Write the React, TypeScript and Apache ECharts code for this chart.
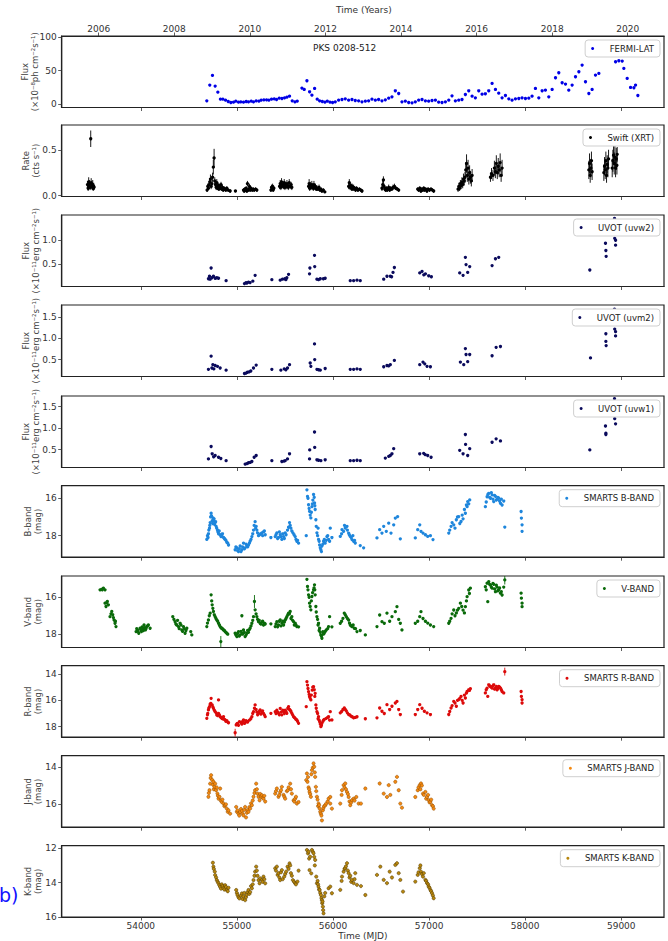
import React, { useEffect, useRef } from "react";
import * as echarts from "echarts";

// ---------- tick values ----------
const mjdTicks = [54000, 55000, 56000, 57000, 58000, 59000];
const yearTicks = [2006, 2008, 2010, 2012, 2014, 2016, 2018, 2020];

// ---------- data: [MJD, value] ----------
const fermiLat = [
  [54687, 5], [54718, 28.5], [54746, 43], [54774, 27], [54802, 18], [54829, 7.5], [54854, 7.5], [54882, 6], [54910, 4], [54937, 2.5],
  [54965, 3], [54989, 4.5], [55017, 3], [55041, 3.5], [55069, 3], [55097, 4], [55121, 3.5], [55149, 4.5], [55173, 3.5], [55201, 5],
  [55229, 4.5], [55253, 6], [55281, 6.5], [55309, 6.5], [55333, 6], [55361, 7.5], [55389, 8], [55413, 7], [55441, 9], [55469, 8.5],
  [55496, 9.5], [55521, 10.5], [55548, 12], [55576, 5], [55604, 3.5], [55628, 4.5], [55677, 24], [55701, 22], [55729, 35], [55757, 18.5],
  [55781, 13.5], [55809, 23.5], [55836, 7.5], [55861, 5], [55889, 4], [55916, 3], [55941, 4.5], [55969, 3], [55996, 2.5], [56024, 3.5],
  [56059, 6], [56094, 7], [56128, 8], [56163, 6], [56198, 7], [56232, 5.5], [56267, 5], [56302, 3.5], [56337, 4.5], [56371, 5],
  [56406, 7.5], [56441, 6], [56475, 7], [56510, 5], [56545, 6.5], [56580, 9], [56614, 11], [56649, 20], [56684, 16], [56718, 3.5],
  [56753, 4.5], [56788, 2.5], [56823, 2], [56857, 3.5], [56892, 6], [56927, 7], [56962, 5], [56996, 4.5], [57031, 5.5], [57066, 6],
  [57100, 3], [57135, 2.5], [57170, 3.5], [57205, 6], [57239, 12.5], [57274, 5], [57309, 6], [57343, 7], [57378, 14.5], [57413, 20],
  [57448, 12], [57482, 9.5], [57517, 20], [57552, 15], [57586, 15.5], [57621, 20], [57656, 31], [57691, 22], [57725, 16.5], [57760, 9.5],
  [57795, 13], [57830, 8], [57864, 6], [57899, 8], [57934, 8.5], [57968, 9.5], [58003, 8.5], [58038, 9], [58072, 12], [58107, 23.5],
  [58142, 9.5], [58177, 20], [58211, 21], [58246, 11], [58281, 22], [58316, 39.5], [58350, 47], [58385, 32], [58420, 30], [58454, 21],
  [58489, 28.5], [58524, 41], [58559, 48.5], [58593, 58.5], [58628, 33.5], [58663, 16], [58697, 22], [58732, 43.5], [58767, 46],
  [58941, 63.5], [58975, 65], [59010, 64.5], [59027, 53.5], [59062, 38.5], [59097, 25], [59132, 24.5], [59149, 28.5], [59173, 13],
];

// [MJD, rate, error]
const swiftXrt = [
  [53445, 0.12, 0.04], [53452, 0.08, 0.03], [53458, 0.15, 0.05], [53463, 0.1, 0.03], [53468, 0.13, 0.04], [53473, 0.09, 0.03],
  [53479, 0.62, 0.09], [53484, 0.14, 0.05], [53490, 0.11, 0.04], [53495, 0.1, 0.04], [53500, 0.12, 0.05], [53505, 0.08, 0.03],
  [53510, 0.1, 0.04], [53514, 0.09, 0.03],
  [54690, 0.06, 0.02], [54697, 0.1, 0.03], [54704, 0.08, 0.02], [54711, 0.12, 0.03], [54718, 0.15, 0.04], [54725, 0.18, 0.05],
  [54732, 0.1, 0.03], [54740, 0.13, 0.04], [54747, 0.2, 0.05], [54755, 0.31, 0.08], [54763, 0.41, 0.1], [54770, 0.16, 0.04],
  [54777, 0.12, 0.03], [54784, 0.09, 0.03], [54791, 0.14, 0.04], [54798, 0.08, 0.02], [54806, 0.11, 0.03], [54813, 0.07, 0.02],
  [54820, 0.1, 0.03], [54828, 0.08, 0.02], [54835, 0.12, 0.03], [54843, 0.07, 0.02], [54850, 0.09, 0.03], [54858, 0.06, 0.02],
  [54866, 0.08, 0.02], [54875, 0.07, 0.02], [54885, 0.06, 0.02], [54895, 0.08, 0.02], [54910, 0.06, 0.02], [54930, 0.05, 0.02],
  [54985, 0.05, 0.01],
  [55069, 0.06, 0.02], [55076, 0.05, 0.02], [55083, 0.07, 0.02], [55090, 0.06, 0.02], [55097, 0.08, 0.02], [55104, 0.05, 0.02],
  [55110, 0.13, 0.03], [55117, 0.06, 0.02], [55124, 0.07, 0.02], [55131, 0.1, 0.03], [55138, 0.06, 0.02], [55145, 0.08, 0.02],
  [55152, 0.07, 0.02], [55160, 0.06, 0.02], [55170, 0.07, 0.02], [55180, 0.06, 0.02], [55195, 0.07, 0.02], [55208, 0.06, 0.02],
  [55354, 0.06, 0.02], [55360, 0.09, 0.03], [55366, 0.07, 0.02], [55372, 0.1, 0.03], [55378, 0.06, 0.02], [55385, 0.08, 0.02],
  [55444, 0.1, 0.03], [55451, 0.13, 0.04], [55458, 0.09, 0.03], [55465, 0.15, 0.04], [55472, 0.11, 0.03], [55479, 0.12, 0.04],
  [55486, 0.1, 0.03], [55493, 0.14, 0.04], [55500, 0.09, 0.03], [55507, 0.12, 0.03], [55514, 0.1, 0.03], [55521, 0.13, 0.04],
  [55528, 0.11, 0.03], [55535, 0.09, 0.03], [55545, 0.14, 0.04], [55555, 0.1, 0.03], [55565, 0.12, 0.03], [55572, 0.09, 0.03],
  [55746, 0.1, 0.03], [55752, 0.13, 0.05], [55758, 0.08, 0.03], [55765, 0.11, 0.04], [55772, 0.09, 0.03], [55780, 0.12, 0.04],
  [55788, 0.1, 0.03], [55795, 0.08, 0.03], [55802, 0.12, 0.04], [55810, 0.09, 0.03], [55818, 0.1, 0.03], [55826, 0.07, 0.02],
  [55835, 0.08, 0.03], [55845, 0.07, 0.02], [55855, 0.09, 0.03], [55865, 0.06, 0.02], [55875, 0.07, 0.02], [55885, 0.05, 0.02],
  [55900, 0.06, 0.02], [55915, 0.04, 0.01],
  [56163, 0.1, 0.03], [56170, 0.14, 0.04], [56178, 0.09, 0.03], [56185, 0.11, 0.03], [56192, 0.08, 0.03], [56200, 0.1, 0.03],
  [56208, 0.07, 0.02], [56215, 0.09, 0.03], [56225, 0.08, 0.02], [56235, 0.06, 0.02], [56245, 0.08, 0.02], [56260, 0.06, 0.02],
  [56275, 0.07, 0.02], [56290, 0.06, 0.02], [56302, 0.05, 0.02],
  [56510, 0.08, 0.03], [56518, 0.12, 0.04], [56525, 0.17, 0.04], [56532, 0.1, 0.03], [56540, 0.07, 0.02], [56548, 0.06, 0.02],
  [56556, 0.08, 0.02], [56564, 0.06, 0.02], [56572, 0.07, 0.02], [56580, 0.09, 0.03], [56590, 0.06, 0.02], [56600, 0.08, 0.02],
  [56612, 0.07, 0.02], [56625, 0.09, 0.03], [56640, 0.1, 0.03], [56655, 0.08, 0.02], [56670, 0.07, 0.02], [56684, 0.06, 0.02],
  [56882, 0.07, 0.02], [56892, 0.06, 0.02], [56903, 0.08, 0.02], [56915, 0.05, 0.02], [56925, 0.07, 0.02], [56935, 0.06, 0.02],
  [56945, 0.08, 0.02], [56955, 0.06, 0.02], [56965, 0.07, 0.02], [56978, 0.05, 0.02], [56990, 0.07, 0.02], [57005, 0.06, 0.02],
  [57020, 0.07, 0.02], [57035, 0.06, 0.02], [57048, 0.05, 0.02],
  [57302, 0.07, 0.03], [57310, 0.1, 0.04], [57318, 0.08, 0.03], [57326, 0.13, 0.04], [57334, 0.11, 0.04], [57342, 0.15, 0.05],
  [57350, 0.12, 0.04], [57358, 0.18, 0.06], [57366, 0.16, 0.05], [57374, 0.2, 0.06], [57382, 0.28, 0.08], [57390, 0.35, 0.1],
  [57398, 0.22, 0.07], [57406, 0.3, 0.09], [57414, 0.18, 0.06], [57422, 0.25, 0.08], [57430, 0.2, 0.07], [57440, 0.16, 0.06],
  [57448, 0.22, 0.07],
  [57639, 0.2, 0.05], [57650, 0.24, 0.06], [57665, 0.22, 0.06], [57680, 0.3, 0.08], [57690, 0.26, 0.07], [57700, 0.35, 0.09],
  [57710, 0.25, 0.07], [57720, 0.32, 0.09], [57730, 0.28, 0.08], [57740, 0.36, 0.1], [57750, 0.22, 0.07], [57760, 0.3, 0.09],
  [58663, 0.28, 0.1], [58670, 0.35, 0.11], [58677, 0.22, 0.08], [58684, 0.3, 0.1], [58690, 0.38, 0.1], [58697, 0.26, 0.09],
  [58819, 0.25, 0.09], [58826, 0.32, 0.1], [58833, 0.28, 0.1], [58840, 0.38, 0.1], [58847, 0.22, 0.08], [58854, 0.34, 0.1],
  [58861, 0.3, 0.1], [58868, 0.4, 0.1],
  [58906, 0.3, 0.1], [58913, 0.38, 0.12], [58920, 0.44, 0.1], [58927, 0.35, 0.12], [58934, 0.42, 0.12], [58941, 0.3, 0.1],
  [58948, 0.4, 0.12], [58955, 0.33, 0.1], [58958, 0.45, 0.08],
];

const uvotW2 = [
  [54704, 0.2], [54715, 0.25], [54732, 0.42], [54740, 0.22], [54756, 0.25], [54774, 0.21], [54791, 0.22], [54809, 0.21], [54722, 0.19],
  [54888, 0.16],
  [55079, 0.1], [55104, 0.11], [55138, 0.12], [55166, 0.15], [55190, 0.27], [55095, 0.12], [55121, 0.13],
  [55364, 0.18],
  [55451, 0.17], [55475, 0.19], [55500, 0.2], [55520, 0.22], [55538, 0.29], [55510, 0.18],
  [55756, 0.3], [55760, 0.42], [55808, 0.68], [55810, 0.45], [55833, 0.19], [55868, 0.2], [55900, 0.2], [55919, 0.21], [55850, 0.18],
  [56180, 0.16], [56215, 0.16], [56250, 0.17], [56284, 0.16],
  [56528, 0.19], [56562, 0.25], [56597, 0.25], [56625, 0.33], [56639, 0.43], [56610, 0.24],
  [56903, 0.32], [56927, 0.35], [56962, 0.3], [56996, 0.26], [57024, 0.24], [56945, 0.28],
  [57319, 0.32], [57354, 0.27], [57378, 0.64], [57385, 0.49], [57402, 0.33], [57423, 0.45],
  [57656, 0.47], [57691, 0.61], [57725, 0.64],
  [58673, 0.38],
  [58836, 0.93], [58840, 0.78], [58843, 0.66],
  [58930, 1.44], [58932, 1.03], [58941, 0.99], [58941, 0.89],
];

const uvotM2 = [
  [54704, 0.27], [54732, 0.58], [54750, 0.38], [54774, 0.36], [54798, 0.34], [54826, 0.3], [54888, 0.25], [54740, 0.3], [54760, 0.28],
  [55079, 0.17], [55110, 0.2], [55145, 0.23], [55173, 0.3], [55201, 0.37], [55095, 0.18], [55128, 0.21],
  [55364, 0.27],
  [55458, 0.25], [55493, 0.28], [55527, 0.3], [55548, 0.38], [55510, 0.26],
  [55763, 0.42], [55770, 0.34], [55808, 0.87], [55810, 0.5], [55833, 0.27], [55868, 0.25], [55919, 0.29], [55850, 0.26],
  [56180, 0.27], [56215, 0.27], [56250, 0.28], [56284, 0.27],
  [56528, 0.33], [56562, 0.36], [56597, 0.38], [56639, 0.48], [56580, 0.35],
  [56903, 0.38], [56937, 0.44], [56979, 0.34], [57014, 0.33], [56955, 0.4],
  [57326, 0.44], [57361, 0.38], [57378, 0.76], [57385, 0.62], [57402, 0.45], [57423, 0.62],
  [57656, 0.59], [57698, 0.79], [57743, 0.81],
  [58680, 0.54],
  [58840, 1.11], [58840, 0.93], [58843, 0.83],
  [58930, 1.69], [58932, 1.22], [58941, 1.16], [58941, 1.06],
];

const uvotW1 = [
  [54704, 0.28], [54732, 0.57], [54743, 0.4], [54774, 0.36], [54809, 0.32], [54833, 0.29], [54888, 0.24], [54758, 0.33],
  [55086, 0.16], [55121, 0.19], [55156, 0.22], [55180, 0.32], [55201, 0.36], [55104, 0.17], [55140, 0.2],
  [55364, 0.24],
  [55468, 0.22], [55503, 0.24], [55527, 0.28], [55548, 0.4], [55490, 0.23],
  [55756, 0.28], [55758, 0.49], [55808, 0.91], [55810, 0.55], [55833, 0.26], [55874, 0.24], [55919, 0.26], [55850, 0.25],
  [56180, 0.24], [56215, 0.24], [56250, 0.25], [56284, 0.24],
  [56545, 0.3], [56580, 0.34], [56614, 0.4], [56632, 0.52], [56597, 0.36],
  [56903, 0.4], [56944, 0.41], [56986, 0.36], [57021, 0.32], [56960, 0.38],
  [57319, 0.48], [57354, 0.4], [57378, 0.85], [57380, 0.62], [57402, 0.36], [57423, 0.52],
  [57656, 0.67], [57698, 0.75], [57743, 0.7],
  [58673, 0.49],
  [58836, 1.05], [58840, 0.88], [58840, 0.85],
  [58930, 1.69], [58932, 1.22], [58941, 1.1],
];

const bBand = [
  [54687, 18.2], [54694, 18.0], [54700, 18.1], [54704, 17.9], [54708, 17.7], [54715, 17.6], [54718, 17.45], [54722, 17.3], [54727, 17.0],
  [54732, 16.8], [54736, 16.95], [54743, 17.2], [54748, 17.35], [54752, 17.05], [54756, 17.2], [54763, 17.1], [54768, 17.4], [54774, 17.3],
  [54779, 17.25], [54784, 17.5], [54790, 17.6], [54798, 17.7], [54803, 17.8], [54809, 17.9], [54816, 17.75], [54826, 17.95], [54835, 18.05],
  [54843, 18.0], [54850, 17.9], [54861, 18.1], [54870, 18.15], [54878, 18.2], [54886, 18.25], [54895, 18.35], [54905, 18.4], [54913, 18.5],
  [54982, 18.75], [54990, 18.6], [55000, 18.65], [55008, 18.8], [55017, 18.85], [55025, 18.7], [55034, 18.55], [55043, 18.85], [55052, 18.75],
  [55060, 18.6], [55069, 18.4], [55078, 18.7], [55086, 18.65], [55095, 18.45], [55104, 18.55], [55112, 18.6], [55121, 18.5], [55130, 18.4],
  [55138, 18.3], [55147, 18.2], [55156, 18.05], [55165, 17.9], [55173, 17.7], [55180, 17.45], [55190, 17.25], [55195, 17.6], [55201, 17.5],
  [55208, 17.7], [55215, 17.85], [55225, 18.0], [55236, 17.95], [55248, 17.9], [55260, 17.85], [55268, 18.0], [55277, 17.8], [55286, 17.75],
  [55295, 17.95],
  [55354, 18.1],
  [55399, 18.05], [55407, 17.95], [55416, 17.85], [55424, 18.15], [55433, 18.1], [55442, 17.8], [55451, 17.95], [55459, 18.05], [55468, 18.2],
  [55477, 17.9], [55486, 18.05], [55494, 18.15], [55503, 17.85], [55512, 17.95], [55527, 17.7], [55538, 17.55], [55548, 17.3], [55555, 17.45],
  [55562, 17.6], [55572, 17.75], [55583, 17.85], [55595, 17.95], [55607, 18.05], [55615, 18.2], [55624, 18.3], [55632, 18.25], [55642, 18.4],
  [55722, 18.0], [55729, 15.55], [55735, 15.9], [55740, 16.0], [55746, 16.35], [55752, 16.55], [55756, 16.7], [55763, 16.9], [55770, 17.05],
  [55775, 16.75], [55781, 16.45], [55786, 16.3], [55791, 16.1], [55798, 15.8], [55805, 15.95], [55808, 16.25], [55811, 16.4], [55815, 16.6],
  [55822, 17.15], [55826, 17.5], [55833, 17.85], [55840, 18.0], [55845, 17.6], [55850, 18.2], [55856, 18.3], [55861, 18.5], [55868, 18.65],
  [55874, 18.75], [55880, 18.85], [55885, 18.55], [55895, 18.45], [55902, 18.3], [55910, 18.2], [55919, 18.4], [55930, 18.25], [55937, 18.05],
  [55945, 18.0], [55954, 18.2], [55965, 18.3], [55972, 17.6], [55989, 18.1],
  [56076, 18.04], [56090, 17.9], [56094, 17.68], [56111, 17.77], [56120, 17.45], [56128, 17.59], [56146, 17.5], [56150, 17.7], [56163, 17.86],
  [56170, 17.95], [56180, 18.04], [56190, 18.1], [56198, 18.21], [56207, 18.0], [56215, 18.3], [56225, 18.25], [56232, 18.39], [56284, 18.53],
  [56319, 18.65],
  [56458, 18.12], [56486, 17.68], [56510, 17.86], [56528, 17.5], [56555, 17.77], [56580, 17.33], [56604, 17.86], [56632, 17.42], [56649, 17.06],
  [56673, 16.98], [56701, 18.17],
  [56857, 18.12], [56882, 17.68], [56903, 17.42], [56916, 17.77], [56937, 17.86], [56962, 17.95], [56986, 18.04], [57014, 18.0], [57041, 18.21],
  [57205, 17.86], [57215, 17.7], [57229, 17.5], [57240, 17.3], [57257, 17.42], [57270, 17.6], [57284, 17.15], [57296, 17.0], [57309, 16.98],
  [57320, 17.35], [57333, 17.24], [57345, 16.9], [57354, 17.1], [57368, 16.6], [57378, 16.8], [57389, 16.36], [57396, 16.45], [57402, 16.18],
  [57413, 16.3], [57423, 16.09],
  [57586, 16.45], [57595, 16.2], [57604, 15.92], [57612, 15.8], [57621, 15.74], [57630, 15.95], [57639, 16.0], [57648, 15.7], [57656, 15.82],
  [57665, 16.05], [57673, 16.18], [57682, 15.85], [57691, 15.9], [57700, 16.1], [57708, 16.05], [57716, 15.95], [57725, 16.0], [57734, 16.15],
  [57743, 16.27], [57752, 16.05], [57760, 16.36], [57777, 16.15], [57788, 17.54],
  [57958, 16.71], [57961, 17.06], [57968, 17.42], [57968, 17.77],
];

const vBand = [
  [53576, 15.6], [53594, 15.57], [53600, 15.6], [53611, 15.51], [53628, 15.6],
  [53628, 16.32], [53638, 16.5], [53645, 16.3], [53652, 16.23], [53663, 16.41],
  [53680, 17.05], [53690, 16.9], [53698, 16.77], [53708, 16.95], [53715, 17.1], [53722, 17.23], [53732, 17.41], [53736, 17.3], [53742, 17.59],
  [53951, 17.86], [53958, 17.7], [53965, 17.77], [53972, 17.85], [53979, 17.95], [53993, 17.68], [54000, 17.75], [54007, 17.86], [54014, 17.6],
  [54020, 17.68], [54027, 17.8], [54034, 17.5], [54041, 17.65], [54048, 17.77], [54055, 17.7], [54062, 17.59], [54070, 17.55], [54079, 17.5],
  [54097, 17.68],
  [54333, 17.05], [54345, 17.2], [54357, 17.32], [54365, 17.45], [54374, 17.5], [54383, 17.25], [54392, 17.59], [54400, 17.7], [54409, 17.41],
  [54418, 17.5], [54427, 17.77], [54435, 17.85], [54444, 17.59], [54452, 17.7], [54461, 17.95], [54470, 17.8], [54479, 17.68], [54520, 17.86],
  [54531, 18.04],
  [54687, 17.59], [54694, 17.4], [54704, 17.23], [54713, 17.0], [54722, 16.86], [54732, 15.87], [54738, 16.2], [54743, 16.41], [54750, 16.6],
  [54756, 16.77], [54765, 16.95], [54774, 17.05], [54782, 17.15], [54791, 17.23], [54800, 17.3], [54809, 17.41], [54818, 17.5], [54826, 17.59],
  [54833, 18.4], [54835, 17.65], [54843, 17.68], [54852, 17.72], [54861, 17.77], [54870, 17.8], [54878, 17.86], [54886, 17.9], [54895, 17.95],
  [54905, 18.0],
  [54982, 17.95], [54990, 18.05], [55000, 18.13], [55008, 17.95], [55017, 17.86], [55025, 18.1], [55034, 18.04], [55043, 17.85], [55052, 17.95],
  [55052, 17.0], [55060, 18.0], [55069, 17.77], [55078, 17.9], [55086, 18.13], [55095, 18.05], [55104, 17.95], [55112, 17.8], [55121, 17.9],
  [55130, 17.75], [55138, 17.68], [55147, 17.55], [55156, 17.41], [55165, 17.25], [55173, 17.05], [55183, 16.23], [55190, 16.68], [55200, 16.9],
  [55208, 17.05], [55216, 17.2], [55225, 17.32], [55233, 17.25], [55242, 17.41], [55250, 17.45], [55260, 17.35], [55268, 17.3], [55277, 17.5],
  [55286, 17.4], [55295, 17.45],
  [55354, 17.44],
  [55399, 17.59], [55407, 17.45], [55416, 17.32], [55424, 17.6], [55433, 17.5], [55442, 17.3], [55451, 17.23], [55459, 17.55], [55468, 17.4],
  [55477, 17.3], [55486, 17.5], [55494, 17.35], [55503, 17.23], [55512, 17.15], [55520, 17.05], [55530, 16.95], [55538, 16.86], [55547, 16.9],
  [55555, 16.77], [55563, 17.15], [55572, 17.05], [55580, 17.25], [55590, 17.32], [55598, 17.5], [55607, 17.41], [55615, 17.5], [55624, 17.59],
  [55642, 17.6],
  [55729, 15.03], [55735, 15.42], [55740, 15.6], [55746, 15.87], [55752, 16.0], [55756, 16.32], [55763, 16.5], [55770, 16.68], [55775, 16.2],
  [55781, 15.96], [55788, 15.75], [55798, 15.6], [55803, 15.5], [55808, 15.33], [55811, 15.6], [55815, 15.87], [55822, 16.5], [55826, 16.8],
  [55833, 17.05], [55840, 17.2], [55845, 17.5], [55850, 17.41], [55856, 17.8], [55861, 17.68], [55868, 17.9], [55874, 18.04], [55880, 18.1],
  [55885, 18.22], [55895, 17.86], [55900, 18.0], [55909, 17.95], [55920, 17.85], [55930, 17.77], [55945, 17.7], [55954, 17.59], [55965, 17.05],
  [55989, 17.6],
  [56076, 17.41], [56090, 17.3], [56104, 17.14], [56118, 16.86], [56128, 16.95], [56139, 17.05], [56150, 17.15], [56163, 17.23], [56172, 17.4],
  [56180, 17.5], [56190, 17.55], [56198, 17.59], [56210, 17.5], [56222, 17.68], [56235, 17.7], [56250, 17.86], [56284, 17.8], [56337, 18.04],
  [56458, 17.59], [56486, 16.96], [56510, 17.32], [56534, 17.41], [56562, 16.86], [56590, 17.3], [56614, 17.05], [56649, 16.78], [56666, 16.51],
  [56684, 17.2], [56701, 17.41], [56718, 17.77],
  [56857, 17.41], [56882, 17.3], [56903, 17.05], [56916, 16.78], [56937, 17.15], [56962, 17.3], [56986, 17.4], [57014, 17.5], [57048, 17.59],
  [57205, 17.41], [57215, 17.3], [57229, 17.14], [57240, 16.9], [57257, 16.69], [57270, 17.0], [57284, 16.85], [57296, 16.7], [57309, 16.6],
  [57326, 16.32], [57340, 16.5], [57354, 16.7], [57368, 16.85], [57378, 16.51], [57389, 16.2], [57396, 15.97], [57413, 15.61], [57420, 15.8],
  [57430, 15.51],
  [57586, 15.43], [57595, 15.6], [57604, 15.24], [57611, 16.24], [57621, 15.16], [57630, 15.3], [57639, 15.34], [57648, 15.45], [57656, 15.51],
  [57665, 15.25], [57673, 15.3], [57682, 15.55], [57691, 15.7], [57700, 15.35], [57708, 15.45], [57716, 15.65], [57725, 15.6], [57734, 15.5],
  [57743, 15.78], [57752, 15.7], [57760, 15.88], [57777, 15.45], [57788, 15.06],
  [57958, 15.78], [57961, 16.05], [57968, 16.32], [57968, 16.51],
];
const vBandErr = [[54833, 18.4, 0.3], [55183, 16.23, 0.35], [57788, 15.06, 0.25]];

const rBand = [
  [54687, 17.37], [54694, 17.1], [54697, 16.99], [54704, 16.73], [54708, 16.6], [54715, 16.48], [54722, 16.3], [54729, 16.23], [54732, 15.85],
  [54743, 16.35], [54750, 16.5], [54756, 16.61], [54765, 16.75], [54774, 16.86], [54784, 16.95], [54791, 17.11], [54800, 17.15], [54809, 17.0],
  [54809, 15.97], [54818, 17.1], [54826, 17.24], [54835, 17.3], [54843, 17.37], [54852, 17.4], [54861, 17.25], [54870, 17.45], [54878, 17.49],
  [54886, 17.6], [54895, 17.54], [54905, 17.65], [54913, 17.7],
  [54982, 18.46], [54993, 17.87], [55000, 17.8], [55006, 17.75], [55017, 17.9], [55027, 17.62], [55043, 17.7], [55052, 17.8], [55060, 17.6],
  [55069, 17.49], [55078, 17.75], [55086, 17.7], [55095, 17.55], [55104, 17.6], [55112, 17.65], [55131, 17.5], [55145, 17.4], [55156, 17.24],
  [55165, 17.0], [55173, 16.86], [55183, 16.6], [55190, 16.35], [55200, 16.7], [55208, 16.9], [55216, 17.1], [55225, 16.99], [55233, 16.85],
  [55242, 16.73], [55250, 17.05], [55260, 16.9], [55268, 16.8], [55277, 16.99], [55286, 17.1], [55295, 17.24],
  [55354, 16.99],
  [55399, 16.86], [55407, 17.0], [55416, 16.75], [55424, 16.9], [55433, 16.99], [55442, 17.1], [55451, 16.61], [55459, 16.9], [55468, 17.1],
  [55477, 16.75], [55486, 16.86], [55494, 17.0], [55503, 16.75], [55512, 16.85], [55520, 16.99], [55530, 16.6], [55538, 16.48], [55547, 16.7],
  [55555, 16.75], [55563, 16.85], [55572, 16.99], [55580, 17.1], [55590, 17.24], [55598, 17.3], [55607, 17.37], [55615, 17.45], [55624, 17.49],
  [55632, 17.6], [55642, 17.75],
  [55722, 16.48], [55729, 14.58], [55735, 14.84], [55740, 15.1], [55746, 15.34], [55752, 15.55], [55756, 15.72], [55763, 15.85], [55770, 15.97],
  [55775, 15.6], [55784, 15.22], [55790, 15.0], [55798, 14.96], [55805, 15.2], [55811, 15.7], [55815, 15.47], [55822, 16.35], [55826, 16.6],
  [55833, 16.86], [55840, 17.0], [55845, 17.4], [55850, 17.24], [55856, 17.5], [55861, 17.62], [55868, 17.8], [55874, 18.0], [55880, 17.9],
  [55885, 17.75], [55895, 17.6], [55902, 17.5], [55910, 17.45], [55930, 17.37], [55945, 17.3], [55954, 17.24], [55965, 17.5], [55972, 16.86],
  [55989, 17.49],
  [56076, 16.95], [56090, 16.85], [56104, 16.7], [56118, 16.58], [56128, 16.7], [56139, 16.8], [56150, 16.95], [56163, 17.08], [56175, 17.1],
  [56187, 17.2], [56200, 17.25], [56215, 17.33], [56232, 17.3], [56250, 17.25], [56337, 17.4],
  [56458, 17.33], [56486, 16.58], [56510, 16.83], [56534, 17.0], [56562, 16.33], [56590, 16.7], [56614, 16.45], [56649, 16.2], [56666, 16.08],
  [56684, 16.7], [56701, 17.08],
  [56857, 17.08], [56882, 16.7], [56903, 16.33], [56927, 16.6], [56951, 16.83], [56979, 16.95], [57014, 17.08],
  [57205, 17.08], [57215, 16.85], [57229, 16.58], [57240, 16.4], [57257, 16.08], [57270, 16.2], [57284, 16.45], [57296, 16.0], [57309, 15.95],
  [57320, 15.85], [57333, 15.7], [57345, 16.0], [57354, 16.2], [57368, 15.6], [57378, 15.82], [57389, 15.45], [57396, 15.33], [57413, 15.2],
  [57420, 15.25], [57430, 15.12],
  [57586, 15.44], [57595, 15.2], [57604, 15.07], [57611, 15.7], [57621, 14.82], [57630, 14.9], [57639, 14.95], [57648, 15.0], [57656, 15.07],
  [57665, 14.9], [57673, 14.82], [57682, 15.15], [57691, 15.07], [57700, 14.95], [57708, 15.2], [57716, 15.1], [57725, 14.95], [57734, 15.0],
  [57743, 15.07], [57752, 15.2], [57760, 15.33], [57777, 15.44], [57788, 13.82],
  [57958, 15.33], [57961, 15.7], [57968, 15.95], [57968, 16.2],
];
const rBandErr = [[54982, 18.46, 0.3], [57788, 13.82, 0.3]];

const jBand = [
  [54704, 15.6], [54708, 15.4], [54715, 15.25], [54722, 14.9], [54727, 14.6], [54732, 14.45], [54743, 14.7], [54750, 14.95], [54756, 14.8],
  [54760, 15.2], [54767, 15.07], [54774, 14.9], [54784, 15.25], [54790, 15.1], [54798, 15.43], [54803, 15.55], [54809, 15.7], [54819, 15.6],
  [54826, 15.16], [54833, 15.8], [54843, 15.88], [54850, 15.75], [54861, 15.96], [54870, 16.1], [54878, 16.05], [54886, 16.0], [54895, 16.23],
  [54905, 16.4], [54913, 16.32], [54930, 16.5],
  [54993, 16.14], [55000, 16.4], [55006, 16.32], [55017, 16.5], [55025, 16.6], [55034, 16.41], [55043, 16.25], [55052, 16.35], [55060, 16.5],
  [55069, 16.59], [55078, 16.3], [55086, 16.14], [55095, 16.7], [55104, 16.45], [55112, 16.3], [55121, 16.4], [55130, 16.15], [55138, 16.23],
  [55147, 15.95], [55156, 16.05], [55165, 15.8], [55173, 15.6], [55183, 15.4], [55190, 15.25], [55201, 14.9], [55208, 15.2], [55215, 15.43],
  [55225, 15.6], [55236, 15.79], [55243, 15.45], [55250, 15.6], [55260, 15.52], [55268, 15.65], [55277, 15.7], [55286, 15.55], [55295, 15.85],
  [55399, 15.43], [55407, 15.3], [55416, 15.16], [55433, 15.6], [55442, 15.5], [55451, 15.35], [55459, 15.25], [55468, 15.07], [55486, 15.5],
  [55494, 15.6], [55503, 15.7], [55520, 15.3], [55530, 15.25], [55538, 15.1], [55555, 14.9], [55563, 15.2], [55572, 15.43], [55590, 15.79],
  [55598, 15.85], [55607, 15.7], [55615, 15.6], [55624, 15.96], [55642, 15.88],
  [55722, 14.71], [55729, 14.36], [55735, 14.8], [55740, 14.55], [55746, 15.1], [55752, 15.2], [55756, 15.34], [55763, 15.45], [55770, 15.6],
  [55775, 14.4], [55781, 14.18], [55790, 14.05], [55798, 13.82], [55805, 14.0], [55811, 14.3], [55815, 14.54], [55822, 15.07], [55826, 15.3],
  [55833, 15.6], [55840, 15.75], [55845, 16.1], [55850, 15.96], [55856, 16.05], [55861, 16.23], [55868, 16.4], [55874, 16.5], [55880, 16.6],
  [55885, 16.86], [55895, 16.32], [55900, 16.2], [55909, 16.1], [55920, 16.05], [55930, 15.96], [55945, 15.85], [55954, 15.7], [55972, 15.96],
  [55989, 16.23],
  [55972, 15.61], [56076, 15.96], [56090, 15.5], [56094, 15.25], [56111, 14.98], [56120, 15.1], [56128, 14.89], [56135, 15.2], [56146, 15.34],
  [56155, 15.45], [56163, 15.61], [56172, 15.85], [56180, 16.05], [56190, 15.9], [56198, 15.78], [56215, 15.7], [56225, 15.8], [56243, 15.61],
  [56267, 15.96], [56291, 15.96],
  [56337, 15.16],
  [56486, 14.89], [56528, 15.43], [56562, 15.61], [56580, 14.98], [56597, 15.5], [56649, 14.8], [56666, 14.54], [56684, 15.25], [56701, 15.96],
  [56718, 16.18],
  [56857, 15.61], [56882, 15.25], [56890, 15.1], [56903, 14.98], [56910, 15.2], [56916, 14.89], [56925, 15.0], [56937, 15.43], [56945, 15.5],
  [56962, 15.34], [56970, 15.7], [56979, 15.61], [56990, 15.5], [56996, 15.78], [57005, 15.9], [57014, 15.87], [57022, 15.75], [57031, 16.05],
  [57040, 16.1], [57048, 16.23],
];

const kBand = [
  [54750, 12.84], [54756, 13.07], [54760, 13.2], [54770, 13.36], [54774, 13.56], [54784, 13.7], [54791, 13.85], [54800, 13.95], [54809, 14.04],
  [54818, 14.15], [54826, 14.24], [54835, 14.35], [54843, 14.1], [54852, 14.2], [54861, 14.33], [54870, 14.4], [54878, 14.15], [54886, 14.25],
  [54895, 14.43], [54905, 14.5], [54913, 14.3],
  [54993, 14.43], [55000, 14.6], [55006, 14.72], [55017, 14.85], [55027, 14.92], [55043, 14.75], [55052, 14.63], [55060, 14.95], [55069, 14.8],
  [55078, 14.6], [55086, 15.02], [55095, 14.85], [55104, 14.7], [55112, 14.55], [55121, 14.43], [55130, 14.65], [55138, 14.55], [55147, 14.2],
  [55156, 14.33], [55165, 14.1], [55173, 13.85], [55183, 13.6], [55190, 13.36], [55201, 13.07], [55208, 13.3], [55215, 13.6], [55225, 13.85],
  [55236, 14.04], [55243, 13.75], [55260, 13.85], [55268, 13.95], [55277, 13.65], [55286, 13.8], [55295, 14.04],
  [55399, 13.17], [55407, 13.3], [55416, 13.07], [55424, 13.55], [55433, 13.45], [55442, 13.7], [55451, 13.85], [55459, 13.4], [55468, 13.27],
  [55477, 13.8], [55493, 13.65], [55503, 13.5], [55513, 13.36], [55527, 13.07], [55538, 13.2], [55548, 12.88], [55555, 13.0], [55562, 13.45],
  [55572, 13.6], [55583, 13.85], [55595, 13.95], [55607, 14.04], [55615, 14.1], [55631, 13.94], [55642, 13.3],
  [55729, 12.1], [55740, 12.3], [55746, 12.2], [55752, 12.6], [55756, 13.27], [55763, 12.49], [55774, 13.46], [55781, 12.1], [55790, 12.2],
  [55798, 12.29], [55805, 12.5], [55811, 13.0], [55815, 12.68], [55826, 13.65], [55833, 14.04], [55840, 13.9], [55845, 14.1], [55850, 14.24],
  [55856, 14.4], [55861, 14.43], [55868, 14.6], [55874, 14.72], [55880, 14.9], [55885, 15.02], [55888, 15.2], [55892, 15.1], [55895, 15.4],
  [55898, 15.6], [55902, 15.79], [55910, 14.8], [55919, 14.6], [55954, 14.33], [55989, 14.62],
  [55972, 14.23], [56076, 14.42], [56090, 13.9], [56094, 13.65], [56111, 13.36], [56120, 13.2], [56128, 13.16], [56135, 13.05], [56146, 12.87],
  [56155, 13.3], [56163, 13.45], [56172, 13.7], [56180, 13.6], [56190, 13.95], [56198, 13.84], [56215, 14.03], [56225, 13.8], [56232, 13.45],
  [56250, 14.13], [56291, 14.2],
  [56337, 14.72],
  [56458, 13.55], [56493, 13.07], [56528, 13.84], [56562, 14.03], [56590, 13.36], [56614, 13.7], [56649, 12.97], [56666, 12.87], [56684, 13.45],
  [56701, 13.84], [56729, 14.52],
  [56857, 13.94], [56882, 13.55], [56890, 13.4], [56903, 13.16], [56910, 13.0], [56916, 13.36], [56925, 13.5], [56937, 13.65], [56945, 13.45],
  [56962, 13.84], [56970, 13.9], [56979, 14.03], [56990, 14.1], [56996, 14.23], [57005, 14.3], [57014, 14.42], [57022, 14.5], [57031, 14.62],
  [57040, 14.75], [57048, 14.91],
];

// ---------- y-axis tick values ----------
const fermiTicks = [0, 50, 100];
const swiftTicks = [0.0, 0.5];
const uvw2Ticks = [0.5, 1.0];
const uvm2Ticks = [0.5, 1.0, 1.5];
const uvw1Ticks = [0.5, 1.0, 1.5];
const bTicks = [16, 18];
const vTicks = [16, 18];
const rTicks = [14, 16, 18];
const jTicks = [14, 16];
const kTicks = [12, 14, 16];

// ---------- layout / style ----------
const W = 668;
const H = 941;
const FONT = "DejaVu Sans";
const X_MIN = 53177;
const X_MAX = 59445;
const GRID_LEFT = 61.7;
const GRID_RIGHT = 4;
const PANEL_TOPS = [36, 125, 215, 305, 396, 485.7, 576, 665.7, 755.7, 845.7];
const PANEL_H = 71.5;
const NAME_GAPS = [21, 20, 20, 20, 20, 18, 18, 18, 18, 18];
const TICK_COLOR = "#333";

type Panel = {
  name: string;
  color: string;
  border?: string;
  data: number[][];
  err?: number[][];
  yMin: number;
  yMax: number;
  ticks: number[];
  inverse: boolean;
  yName: string;
  decimals: number;
};

const panels: Panel[] = [
  { name: "FERMI-LAT", color: "#0000e6", data: fermiLat, yMin: -5, yMax: 102, ticks: fermiTicks, inverse: false, yName: "Flux\n(×10⁻⁸ph cm⁻²s⁻¹)", decimals: 0 },
  { name: "Swift (XRT)", color: "#000000", data: swiftXrt, err: swiftXrt, yMin: -0.01, yMax: 0.77, ticks: swiftTicks, inverse: false, yName: "Rate\n(cts s⁻¹)", decimals: 1 },
  { name: "UVOT (uvw2)", color: "#0a0a5c", data: uvotW2, yMin: 0.04, yMax: 1.51, ticks: uvw2Ticks, inverse: false, yName: "Flux\n(×10⁻¹¹erg cm⁻²s⁻¹)", decimals: 1 },
  { name: "UVOT (uvm2)", color: "#0a0a5c", data: uvotM2, yMin: 0.1, yMax: 1.79, ticks: uvm2Ticks, inverse: false, yName: "Flux\n(×10⁻¹¹erg cm⁻²s⁻¹)", decimals: 1 },
  { name: "UVOT (uvw1)", color: "#0a0a5c", data: uvotW1, yMin: 0.08, yMax: 1.75, ticks: uvw1Ticks, inverse: false, yName: "Flux\n(×10⁻¹¹erg cm⁻²s⁻¹)", decimals: 1 },
  { name: "SMARTS B-BAND", color: "#1e86dc", data: bBand, yMin: 15.33, yMax: 19.15, ticks: bTicks, inverse: true, yName: "B-band\n(mag)", decimals: 0 },
  { name: "V-BAND", color: "#0a6a0a", data: vBand, err: vBandErr, yMin: 14.85, yMax: 18.72, ticks: vTicks, inverse: true, yName: "V-band\n(mag)", decimals: 0 },
  { name: "SMARTS R-BAND", color: "#dc0a0a", data: rBand, err: rBandErr, yMin: 13.37, yMax: 18.8, ticks: rTicks, inverse: true, yName: "R-band\n(mag)", decimals: 0 },
  { name: "SMARTS J-BAND", color: "#f58a12", border: "#8a4a00", data: jBand, yMin: 13.41, yMax: 17.22, ticks: jTicks, inverse: true, yName: "J-band\n(mag)", decimals: 0 },
  { name: "SMARTS K-BAND", color: "#b8870e", border: "#4a3500", data: kBand, yMin: 11.85, yMax: 16.0, ticks: kTicks, inverse: true, yName: "K-band\n(mag)", decimals: 0 },
];

function errRender(color: string) {
  return (params: any, api: any) => {
    const x = api.value(0);
    const y = api.value(1);
    const e = api.value(2);
    const a = api.coord([x, y - e]);
    const b = api.coord([x, y + e]);
    return {
      type: "line",
      shape: { x1: a[0], y1: a[1], x2: b[0], y2: b[1] },
      style: { stroke: color, lineWidth: 0.9 },
    };
  };
}

function buildOption() {
  const n = panels.length;
  const grid: any[] = [];
  const xAxis: any[] = [];
  const yAxis: any[] = [];
  const series: any[] = [];
  const legend: any[] = [];

  panels.forEach((p, i) => {
    const top = PANEL_TOPS[i];
    grid.push({
      left: GRID_LEFT,
      right: GRID_RIGHT,
      top,
      height: PANEL_H,
      show: true,
      borderColor: "#222",
      borderWidth: 1.2,
      backgroundColor: "#fff",
    });
    const isBottom = i === n - 1;
    xAxis.push({
      type: "value",
      gridIndex: i,
      min: X_MIN,
      max: X_MAX,
      position: "bottom",
      axisLine: { show: true, onZero: false, lineStyle: { color: "#222", width: 1.2 } },
      axisTick: { show: true, inside: false, length: 3.5, customValues: mjdTicks, lineStyle: { color: TICK_COLOR, width: 0.8 } },
      axisLabel: {
        show: isBottom,
        customValues: mjdTicks,
        margin: 4,
        fontSize: 9,
        fontFamily: FONT,
        color: "#333",
        formatter: (v: number) => String(Math.round(v)),
      },
      splitLine: { show: false },
      name: isBottom ? "Time (MJD)" : "",
      nameLocation: "middle",
      nameGap: 14,
      nameTextStyle: { fontSize: 9, fontFamily: FONT, color: "#333" },
    });
    yAxis.push({
      type: "value",
      gridIndex: i,
      min: p.yMin,
      max: p.yMax,
      inverse: p.inverse,
      axisLine: { show: true, onZero: false, lineStyle: { color: "#222", width: 1.2 } },
      axisTick: { show: true, inside: false, length: 3.5, customValues: p.ticks, lineStyle: { color: TICK_COLOR, width: 0.8 } },
      axisLabel: {
        customValues: p.ticks,
        margin: 5,
        fontSize: 9,
        fontFamily: FONT,
        color: "#333",
        formatter: (v: number) => v.toFixed(p.decimals),
      },
      splitLine: { show: false },
      name: p.yName,
      nameLocation: "middle",
      nameRotate: 90,
      nameMoveOverlap: false,
      nameGap: NAME_GAPS[i],
      nameTextStyle: { fontSize: 8.5, lineHeight: 10.5, fontFamily: FONT, color: "#444", align: "center" },
    });
    if (p.err) {
      series.push({
        type: "custom",
        name: p.name + " err",
        xAxisIndex: i,
        yAxisIndex: i,
        renderItem: errRender(p.color),
        data: p.err.map((d) => [d[0], d[1], d[2]]),
        clip: true,
        z: 2,
        silent: true,
      });
    }
    series.push({
      type: "scatter",
      name: p.name,
      xAxisIndex: i,
      yAxisIndex: i,
      data: p.data.map((d) => [d[0], d[1]]),
      symbol: "circle",
      symbolSize: 3.3,
      clip: true,
      itemStyle: {
        color: p.color,
        opacity: 1,
        borderColor: p.border || p.color,
        borderWidth: p.border ? 0.5 : 0,
      },
      z: 3,
    });
    legend.push({
      data: [{ name: p.name, icon: "circle", itemStyle: { color: p.color, borderWidth: 0 } }],
      right: 8,
      top: top + 4,
      orient: "horizontal",
      backgroundColor: "#fff",
      borderColor: "#cfcfcf",
      borderWidth: 1,
      borderRadius: 3,
      padding: [4, 6, 4, 6],
      itemWidth: 24,
      itemHeight: 3,
      itemGap: 4,
      itemStyle: { borderWidth: 0 },
      selectedMode: false,
      textStyle: { fontSize: 8.5, fontFamily: FONT, color: "#222" },
      z: 10,
    });
  });

  // top "Time (Years)" axis on the first panel
  xAxis.push({
    type: "value",
    gridIndex: 0,
    position: "top",
    min: 2005.02,
    max: 2020.96,
    axisLine: { show: true, onZero: false, lineStyle: { color: "#222", width: 1.2 } },
    axisTick: { show: true, inside: false, length: 3.5, customValues: yearTicks, lineStyle: { color: TICK_COLOR, width: 0.8 } },
    axisLabel: {
      customValues: yearTicks,
      margin: 3,
      fontSize: 9,
      fontFamily: FONT,
      color: "#333",
      formatter: (v: number) => String(Math.round(v)),
    },
    splitLine: { show: false },
  });

  return {
    animation: false,
    backgroundColor: "#fff",
    grid,
    xAxis,
    yAxis,
    series,
    legend,
    graphic: [
      {
        type: "text",
        left: 336,
        top: 5,
        style: { text: "Time (Years)", fontSize: 9, fontFamily: FONT, fill: "#333" },
      },
      {
        type: "text",
        left: 313,
        top: 43,
        style: { text: "PKS 0208-512", fontSize: 9, fontFamily: FONT, fill: "#222" },
        z: 20,
      },
      {
        type: "text",
        left: -1,
        top: 885,
        style: { text: "b)", fontSize: 19, fontFamily: FONT, fill: "#1010ff" },
      },
    ],
  };
}

export default function App() {
  const ref = useRef<HTMLDivElement>(null);
  useEffect(() => {
    if (!ref.current) return;
    const chart = echarts.init(ref.current, undefined, { renderer: "svg" });
    chart.setOption(buildOption() as any);
    return () => chart.dispose();
  }, []);
  return (
    <div
      ref={ref}
      style={{ position: "fixed", left: 0, top: 0, width: W, height: H, background: "#fff" }}
    />
  );
}
